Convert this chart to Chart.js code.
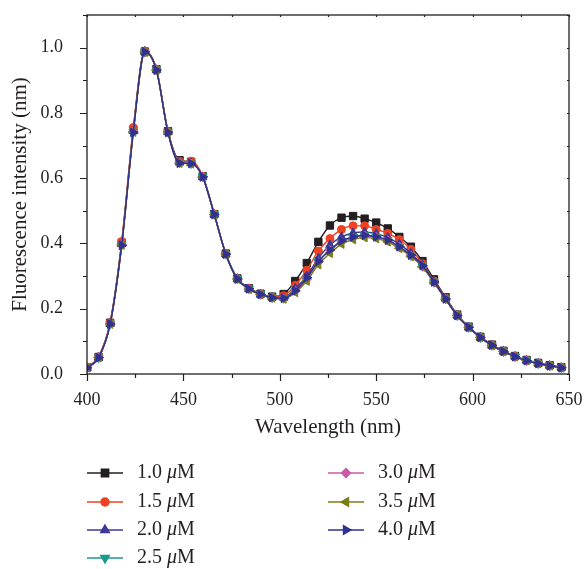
<!DOCTYPE html>
<html lang="en">
<head>
  <title>Fluorescence</title>
  <meta charset="utf-8">
  <script src="https://cdn.jsdelivr.net/npm/chart.js@4.4.0/dist/chart.umd.min.js"></script>
  <style>
    html, body { margin: 0; padding: 0; background: #fff; }
    #wrap { width: 586px; height: 569px; position: relative; }
  </style>
</head>
<body>
<div id="wrap"><canvas id="myChart" width="586" height="569"></canvas></div>
<script>
// wavelength (nm) of every sample point
var wavelength = [400,406,412,418,424,430,436,442,448,454,460,466,472,478,484,490,496,502,508,514,520,
                  526,532,538,544,550,556,562,568,574,580,586,592,598,604,610,616,622,628,634,640,646];

// fluorescence intensity per concentration
var s10 = [0.020,0.052,0.157,0.402,0.748,0.988,0.934,0.744,0.655,0.650,0.606,0.490,0.369,0.293,0.263,0.246,0.237,0.245,0.285,0.340,0.405,
           0.455,0.479,0.484,0.476,0.464,0.446,0.420,0.390,0.346,0.290,0.235,0.182,0.145,0.114,0.090,0.071,0.055,0.043,0.034,0.027,0.021];
var s15 = [0.021,0.053,0.158,0.406,0.755,0.990,0.934,0.743,0.652,0.652,0.606,0.490,0.368,0.292,0.262,0.245,0.236,0.240,0.272,0.318,0.377,
           0.415,0.443,0.454,0.454,0.443,0.431,0.412,0.382,0.338,0.285,0.233,0.181,0.144,0.113,0.089,0.070,0.054,0.042,0.033,0.026,0.020];
var s20 = [0.019,0.050,0.154,0.398,0.744,0.988,0.932,0.742,0.648,0.646,0.604,0.489,0.368,0.292,0.261,0.244,0.235,0.234,0.262,0.300,0.355,
           0.395,0.420,0.432,0.435,0.430,0.418,0.398,0.370,0.334,0.283,0.231,0.180,0.143,0.113,0.088,0.070,0.054,0.042,0.033,0.026,0.020];
var s25 = [0.019,0.050,0.153,0.396,0.742,0.986,0.931,0.741,0.647,0.645,0.604,0.489,0.367,0.291,0.261,0.244,0.234,0.232,0.255,0.290,0.345,
           0.380,0.405,0.420,0.425,0.420,0.410,0.390,0.363,0.330,0.281,0.230,0.179,0.143,0.112,0.088,0.069,0.053,0.041,0.032,0.025,0.019];
var s30 = [0.020,0.051,0.154,0.397,0.743,0.987,0.932,0.742,0.647,0.645,0.605,0.490,0.368,0.291,0.261,0.244,0.234,0.232,0.254,0.290,0.343,
           0.380,0.405,0.418,0.424,0.420,0.410,0.390,0.363,0.330,0.281,0.230,0.180,0.143,0.112,0.088,0.069,0.053,0.042,0.033,0.026,0.020];
var s35 = [0.019,0.050,0.153,0.395,0.741,0.986,0.931,0.741,0.646,0.644,0.603,0.488,0.367,0.291,0.260,0.243,0.233,0.230,0.250,0.285,0.335,
           0.370,0.398,0.412,0.418,0.415,0.405,0.385,0.360,0.328,0.280,0.229,0.179,0.142,0.112,0.087,0.069,0.053,0.041,0.032,0.025,0.019];
var s40 = [0.019,0.050,0.153,0.394,0.740,0.987,0.931,0.740,0.646,0.645,0.604,0.489,0.367,0.291,0.261,0.244,0.234,0.232,0.255,0.295,0.345,
           0.380,0.408,0.420,0.425,0.420,0.410,0.390,0.364,0.332,0.282,0.230,0.179,0.143,0.112,0.088,0.069,0.053,0.041,0.032,0.025,0.019];

var seriesNames = ['1.0', '1.5', '2.0', '2.5', '3.0', '3.5', '4.0'];
var seriesData  = [s10, s15, s20, s25, s30, s35, s40];

// axis tick labels
var xTicks = [400, 450, 500, 550, 600, 650];
var yTicks = [0.0, 0.2, 0.4, 0.6, 0.8, 1.0];

// look of each series
var colors  = ['#231f20', '#ef4123', '#3b3a96', '#1a9a8e', '#c75ca8', '#7b7b1c', '#2e3192'];
var shapes  = ['rect', 'circle', 'triangle', 'triangle', 'rectRot', 'triangle', 'triangle'];
var rots    = [0, 0, 0, 180, 0, -90, 90];
var radii   = [5.2, 4, 5, 5, 4.5, 5, 5];

var SERIF = '"Liberation Serif", "DejaVu Serif", serif';
var INK = '#231f20';

var datasets = seriesData.map(function (arr, i) {
  return {
    label: seriesNames[i] + ' \u03bcM',
    data: arr.map(function (v, k) { return {x: wavelength[k], y: v}; }),
    borderColor: colors[i],
    backgroundColor: colors[i],
    borderWidth: 1.4,
    pointStyle: shapes[i],
    rotation: rots[i],
    pointRadius: radii[i],
    pointBorderWidth: 1,
    cubicInterpolationMode: 'monotone',
    order: 6 - i
  };
});

// frame round the plot + the tick marks
var framePlugin = {
  id: 'frame',
  afterDraw: function (chart) {
    var ctx = chart.ctx, a = chart.chartArea;
    var xs = chart.scales.x, ys = chart.scales.y;
    ctx.save();
    ctx.strokeStyle = INK;
    ctx.lineWidth = 1.3;
    ctx.strokeRect(a.left, a.top, a.right - a.left, a.bottom - a.top);
    ctx.lineWidth = 1.2;
    ctx.beginPath();
    for (var v = 400; v <= 650; v += 25) {
      var px = Math.round(xs.getPixelForValue(v)) + 0.5;
      var big = (v % 50 === 0);
      ctx.moveTo(px, a.bottom); ctx.lineTo(px, a.bottom + (big ? 7 : 4));
      ctx.moveTo(px, a.top); ctx.lineTo(px, a.top + 2);
    }
    for (var j = 0; j <= 11; j++) {
      var py = Math.round(ys.getPixelForValue(j / 10)) + 0.5;
      var bigY = (j % 2 === 0);
      ctx.moveTo(a.left, py); ctx.lineTo(a.left - (bigY ? 7 : 4), py);
      ctx.moveTo(a.right, py); ctx.lineTo(a.right - 2, py);
    }
    ctx.stroke();
    ctx.restore();
  }
};

// legend in two columns under the plot
var legendPlugin = {
  id: 'twoColLegend',
  afterDraw: function (chart) {
    var ctx = chart.ctx;
    var colX = [87, 328];
    var rowY = [473, 502, 530, 558];
    ctx.save();
    chart.data.datasets.forEach(function (ds, i) {
      var c = i < 4 ? 0 : 1;
      var r = i < 4 ? i : i - 4;
      var x0 = colX[c], y = rowY[r];
      ctx.strokeStyle = ds.borderColor;
      ctx.lineWidth = 1.4;
      ctx.beginPath();
      ctx.moveTo(x0, y); ctx.lineTo(x0 + 36, y);
      ctx.stroke();
      ctx.fillStyle = ds.backgroundColor;
      Chart.helpers.drawPoint(ctx, {
        pointStyle: ds.pointStyle, rotation: ds.rotation,
        radius: ds.pointRadius, borderWidth: 1
      }, x0 + 18, y);
      ctx.fill();
      // label with italic mu
      var tx = x0 + 50;
      ctx.fillStyle = INK;
      ctx.textBaseline = 'middle';
      ctx.font = '20px ' + SERIF;
      var part1 = seriesNames[i] + ' ';
      ctx.fillText(part1, tx, y);
      tx += ctx.measureText(part1).width;
      ctx.font = 'italic 20px ' + SERIF;
      ctx.fillText('\u03bc', tx, y);
      tx += ctx.measureText('\u03bc').width;
      ctx.font = '20px ' + SERIF;
      ctx.fillText('M', tx, y);
    });
    ctx.restore();
  }
};

var ctx = document.getElementById('myChart').getContext('2d');
var chart = new Chart(ctx, {
  type: 'line',
  data: { datasets: datasets },
  options: {
    responsive: false,
    animation: false,
    layout: { padding: { left: 0, top: 15, right: 17, bottom: 125 } },
    plugins: {
      legend: { display: false },
      tooltip: { enabled: false }
    },
    scales: {
      x: {
        type: 'linear',
        min: 400, max: 650,
        grid: { display: false },
        border: { display: false },
        afterBuildTicks: function (s) { s.ticks = xTicks.map(function (v) { return {value: v}; }); },
        afterFit: function (s) { s.height = 70; s.paddingLeft = 0; s.paddingRight = 0; },
        ticks: { color: INK, padding: 7, font: { family: SERIF, size: 18 }, maxRotation: 0 },
        title: { display: true, text: 'Wavelength (nm)', color: INK,
                 font: { family: SERIF, size: 21 }, padding: { top: 0, bottom: 4 } }
      },
      y: {
        min: 0, max: 1.1,
        grid: { display: false },
        border: { display: false },
        afterBuildTicks: function (s) { s.ticks = yTicks.map(function (v) { return {value: v}; }); },
        afterFit: function (s) { s.width = 87; s.paddingTop = 0; s.paddingBottom = 0; },
        ticks: { color: INK, padding: 16, font: { family: SERIF, size: 18 },
                 callback: function (v) { return v.toFixed(1); } },
        title: { display: true, text: 'Fluorescence intensity (nm)', color: INK,
                 font: { family: SERIF, size: 21 }, padding: { top: 8, bottom: 0 } }
      }
    }
  },
  plugins: [framePlugin, legendPlugin]
});
</script>
</body>
</html>
